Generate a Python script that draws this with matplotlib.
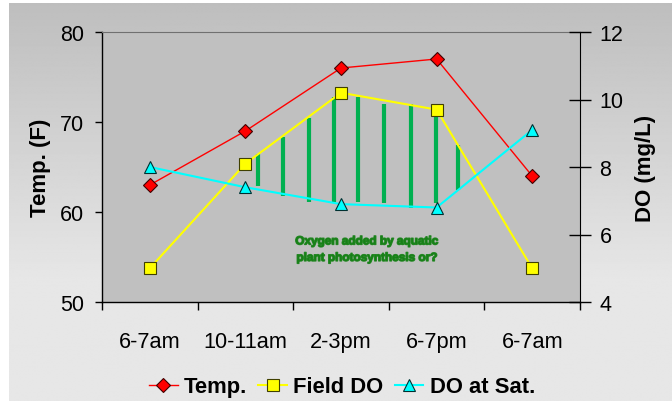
import matplotlib
matplotlib.use('Agg')
import matplotlib.pyplot as plt
import numpy as np
from matplotlib.lines import Line2D
import matplotlib.patheffects as pe

categories = ['6-7am', '10-11am', '2-3pm', '6-7pm', '6-7am']
temp_f = [63, 69, 76, 77, 64]
field_do = [5.0, 8.1, 10.2, 9.7, 5.0]
do_sat = [8.0, 7.4, 6.9, 6.8, 9.1]
bar_x = [1.13, 1.39, 1.67, 1.93, 2.18, 2.45, 2.73, 2.99, 3.22]
bar_top = [8.39, 8.90, 9.44, 10.06, 10.08, 9.87, 9.87, 9.59, 8.65]
bar_bottom = [7.45, 7.15, 6.97, 6.97, 6.97, 6.92, 6.78, 6.92, 7.32]
temp_ticks = [50, 60, 70, 80]
do_ticks = [4, 6, 8, 10, 12]
note = 'Oxygen added by aquatic\nplant photosynthesis or?'

plt.rcParams['font.family'] = ['Liberation Sans', 'DejaVu Sans']

W, H = 672, 402
fig = plt.figure(figsize=(W / 100, H / 100), dpi=100, facecolor='white')

# gradient background
bg = fig.add_axes([9 / W, 0, 1 - 9 / W, 1 - 4 / H], zorder=-10)
t = np.linspace(0, 1, 300)[:, None]
vals = 0.745 + (0.905 - 0.745) * np.clip(t / 0.7, 0, 1)
bg.imshow(np.repeat(vals, 2, axis=1), cmap='gray', vmin=0, vmax=1,
          aspect='auto', extent=[0, 1, 0, 1], interpolation='bilinear')
bg.axis('off')

ax = fig.add_axes([102 / W, 1 - 303 / H, 478 / W, 270 / H])
ax.set_facecolor('#c0c0c0')
x = np.arange(len(categories))

ax.plot(x, temp_f, color='#ff0000', lw=1.0, marker='D', ms=7,
        mfc='#ff0000', mec='#400000', mew=0.8, zorder=3)
ax.set_xlim(-0.5, len(categories) - 0.5)
ax.set_ylim(temp_ticks[0], temp_ticks[-1])
ax.set_yticks(temp_ticks)
ax.set_xticks(x)
ax.set_xticklabels(categories)
ax.set_xticks(np.arange(-0.5, len(categories), 1.0), minor=True)
ax.tick_params(axis='x', which='major', length=0, pad=21, labelsize=15.7)
ax.tick_params(axis='x', which='minor', length=6, width=1, direction='out')
ax.tick_params(axis='y', length=5, width=1, direction='out', pad=8, labelsize=15.5)
for s in ['left', 'bottom']:
    ax.spines[s].set_color('black')
    ax.spines[s].set_linewidth(1.0)
ax.spines['top'].set_color('#707070')
ax.spines['right'].set_visible(False)
ax.set_ylabel('Temp. (F)', fontsize=16, fontweight='bold', labelpad=6)

ax2 = ax.twinx()
ax2.set_ylim(do_ticks[0], do_ticks[-1])
ax2.set_yticks(do_ticks)
ax2.vlines(bar_x, bar_bottom, bar_top, color='#00b050', lw=3.0, zorder=2)
ax2.plot(x, field_do, color='#ffff00', lw=1.5, marker='s', ms=8,
         mfc='#ffff00', mec='#404000', mew=0.8, zorder=4)
ax2.plot(x, do_sat, color='#00ffff', lw=1.5, marker='^', ms=9,
         mfc='#00ffff', mec='#003030', mew=0.8, zorder=4)
ax2.tick_params(axis='y', length=16, width=1, direction='inout', pad=6, labelsize=15.5)
ax2.spines['right'].set_color('black')
ax2.spines['left'].set_visible(False)
ax2.spines['top'].set_visible(False)
ax2.spines['bottom'].set_visible(False)
ax2.set_ylabel('DO (mg/L)', fontsize=16, fontweight='bold', labelpad=8)

ax2.text(2.27, 5.55, note, ha='center', va='center', fontsize=8.5,
         fontweight='bold', color='#178017', linespacing=1.5, zorder=5,
         path_effects=[pe.withStroke(linewidth=1.0, foreground='#2a8a2a')])

handles = [
    Line2D([], [], color='#ff0000', lw=1.0, marker='D', ms=7, mfc='#ff0000', mec='#400000', mew=0.8),
    Line2D([], [], color='#ffff00', lw=1.5, marker='s', ms=8, mfc='#ffff00', mec='#404000', mew=0.8),
    Line2D([], [], color='#00ffff', lw=1.5, marker='^', ms=9, mfc='#00ffff', mec='#003030', mew=0.8),
]
fig.legend(handles, ['Temp.', 'Field DO', 'DO at Sat.'], loc='center',
           bbox_to_anchor=(342 / W, 1 - 388 / H), ncol=3, frameon=False,
           prop={'weight': 'bold', 'size': 15.8}, handlelength=1.3,
           handletextpad=0.3, columnspacing=0.5)

fig.savefig('out.png', dpi=100, facecolor=fig.get_facecolor())
